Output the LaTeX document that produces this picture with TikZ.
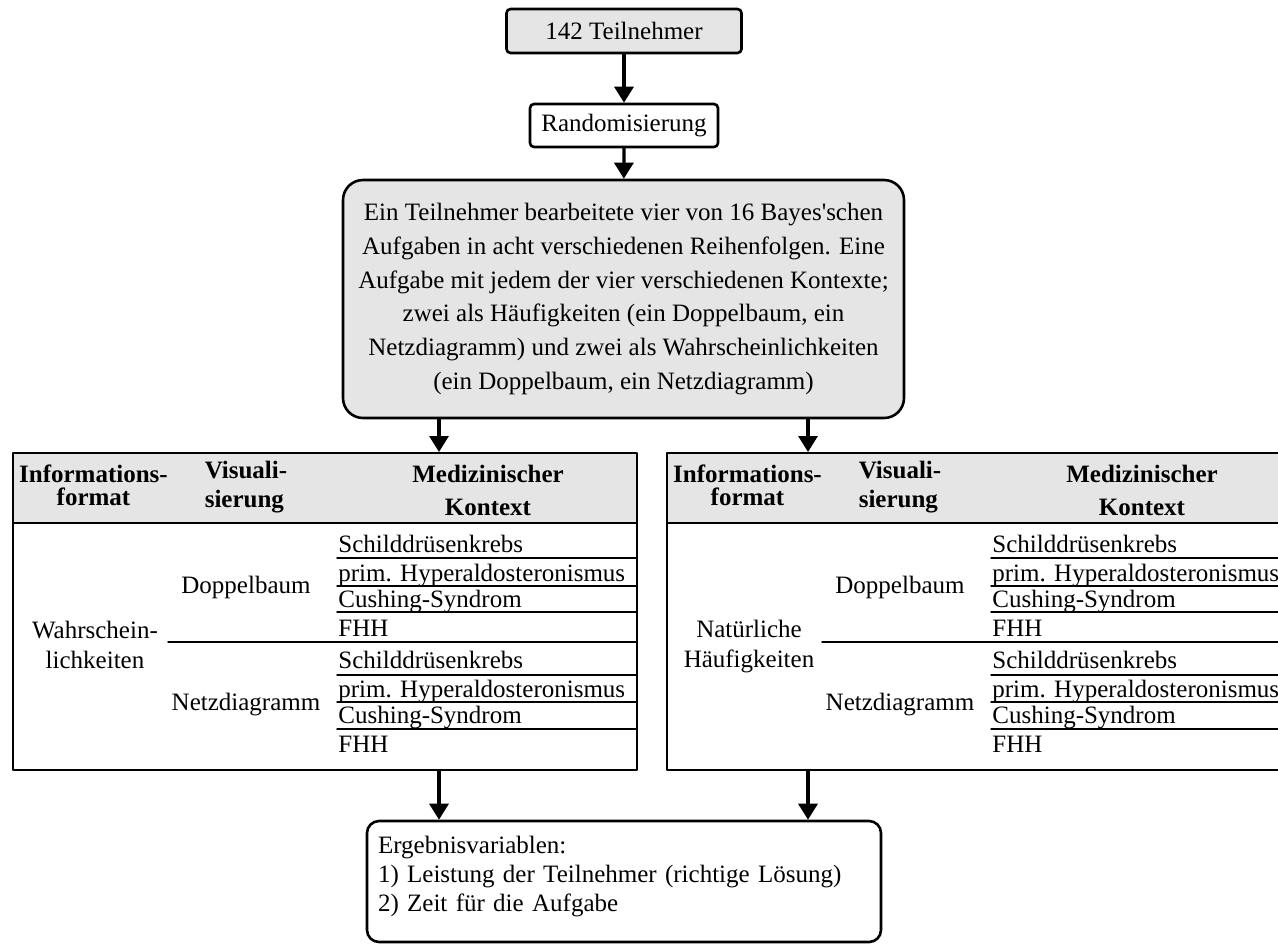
\documentclass[tikz,border=0pt]{standalone}
\usepackage{fontspec}
\setmainfont{Liberation Serif}
\usetikzlibrary{arrows.meta,positioning}
\tikzset{
  every picture/.append style={line cap=round,line join=round},
  bayes box/.style={draw,line width=1.3pt,rounded corners=2pt,align=center,inner sep=0pt},
  bayes grey/.style={fill=black!10},
  bayes arrow/.style={line width=1.6pt,-{Triangle[length=8pt,width=9.5pt]}},
  bayes frame/.style={line width=1pt},
  bayes rule/.style={line width=0.75pt},
  bayes head/.style={inner sep=0pt,align=center},
  bayes cell/.style={inner sep=0pt,anchor=base west}
}

\begin{document}
\begin{tikzpicture}[x=0.5pt,y=-0.5pt,font=\fontsize{12.5pt}{15pt}\selectfont]
  \clip (0,0) rectangle (1278,944);
  \useasboundingbox (0,0) rectangle (1278,944);

  % flow at the top
  \node[bayes box,bayes grey,minimum width=117.5pt,minimum height=22pt] (teiln) at (624,31) {142 Teilnehmer};
  \node[bayes box,fill=white,minimum width=94pt,minimum height=21.5pt] (rand) at (624,125.5) {Randomisierung};
  \node[bayes box,bayes grey,rounded corners=10pt,minimum width=280.5pt,minimum height=119pt,
        font=\fontsize{12.5pt}{16.9pt}\selectfont] (task) at (623.5,299)
    {Ein Teilnehmer bearbeitete vier von 16 Bayes\textquotesingle schen\\
     Aufgaben in acht verschiedenen Reihenfolgen. Eine\\
     Aufgabe mit jedem der vier verschiedenen Kontexte;\\
     zwei als Häufigkeiten (ein Doppelbaum, ein\\
     Netzdiagramm) und zwei als Wahrscheinlichkeiten\\
     (ein Doppelbaum, ein Netzdiagramm)};

  \draw[bayes arrow] (teiln) -- (rand);
  \draw[bayes arrow] (rand) -- (task);

  % the two tables
  \foreach \xo/\tag/\infoA/\infoB/\yi in {13/L/Wahrschein-/lichkeiten/644.5,667/R/Natürliche/Häufigkeiten/647}{
    \fill[bayes grey] (\xo,453) rectangle (\xo+624,523);
    \node[draw,bayes frame,inner sep=0pt,minimum width=312pt,minimum height=158.5pt] (tab\tag) at (\xo+312,611.5) {};
    \draw[bayes frame] (\xo,523) -- (\xo+624,523);
    \node[bayes head,font=\bfseries\fontsize{12.5pt}{11.5pt}\selectfont] (info\tag) at (\xo+80.5,485) {Informations-\\format};
    \node[bayes head,align=left,font=\bfseries\fontsize{12.5pt}{14.5pt}\selectfont] (vis\tag) at (\xo+233,487.5) {Visuali-\\sierung};
    \node[bayes head,font=\bfseries\fontsize{12.5pt}{16.5pt}\selectfont] (kon\tag) at (\xo+475,490) {Medizinischer\\Kontext};
    \node[bayes head] (fmt\tag) at (\xo+82,\yi) {\infoA\\\infoB};
    \node[inner sep=0pt,anchor=base] (dop\tag) at (\xo+233,593) {Doppelbaum};
    \node[inner sep=0pt,anchor=base] (netz\tag) at (\xo+233,710) {Netzdiagramm};
    \draw[bayes rule] (\xo+155,642) -- (\xo+624,642);
    \foreach \yl in {558,586,612,675,702,729}
      \draw[bayes rule] (\xo+324,\yl) -- (\xo+624,\yl);
    \foreach \yg/\grp in {0/a,116/b}
      \foreach \yb/\ctx [count=\k] in {552/Schilddrüsenkrebs,581/prim. Hyperaldosteronismus,607/Cushing-Syndrom,636/FHH}
        \node[bayes cell] (ctx\tag\grp\k) at (\xo+325,\yb+\yg) {\ctx};
  }

  % result box
  \node[bayes box,rounded corners=6pt,minimum width=257pt,minimum height=60.5pt,align=left,text width=246pt,
        text depth=37pt,font=\fontsize{12.5pt}{14.5pt}\selectfont] (ergeb) at (624,881.5)
    {Ergebnisvariablen:\\
     1) Leistung der Teilnehmer (richtige Lösung)\\
     2) Zeit für die Aufgabe};

  \coordinate (colL) at (439,0);
  \coordinate (colR) at (808,0);
  \draw[bayes arrow] (task.south -| colL) -- (tabL.north -| colL);
  \draw[bayes arrow] (task.south -| colR) -- (tabR.north -| colR);
  \draw[bayes arrow] (tabL.south -| colL) -- (ergeb.north -| colL);
  \draw[bayes arrow] (tabR.south -| colR) -- (ergeb.north -| colR);
\end{tikzpicture}
\end{document}
